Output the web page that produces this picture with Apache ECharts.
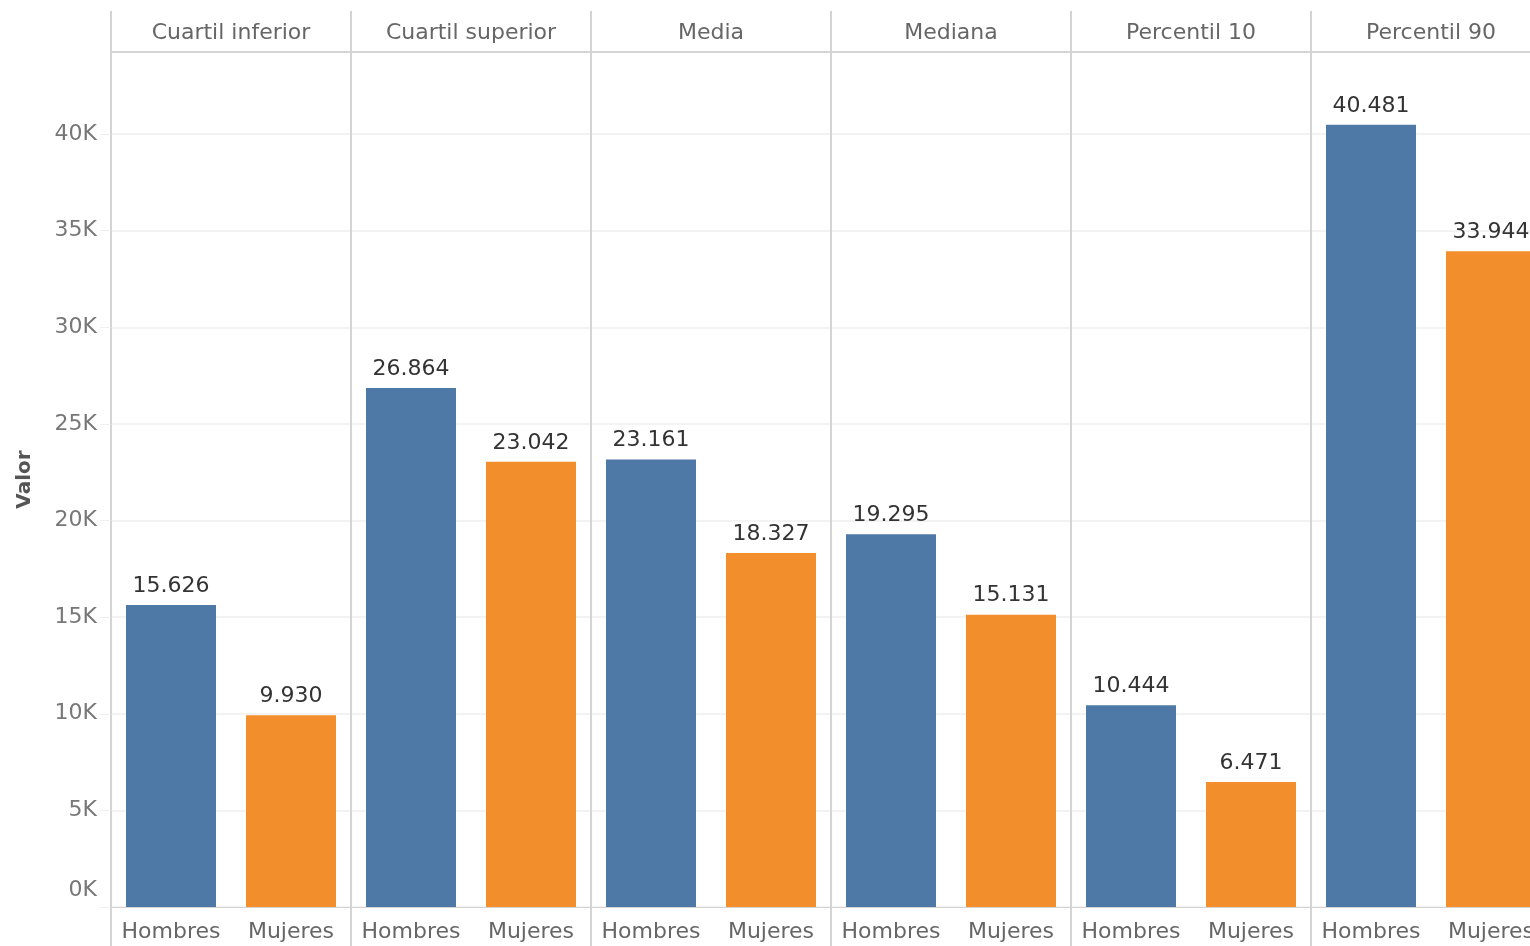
<!DOCTYPE html>
<html>
<head>
<meta charset="utf-8">
<title>Valor por estadístico y sexo</title>
<script src="https://cdn.jsdelivr.net/npm/echarts@6/dist/echarts.min.js"></script>
<style>
  html, body { margin: 0; padding: 0; background: #fff; overflow: hidden; }
  /* el último panel se sale del borde derecho, como en el original */
  #chart { width: 1570px; height: 946px; }
</style>
</head>
<body>
<div id="chart"></div>
<script>
// datos
var panels = ['Cuartil inferior', 'Cuartil superior', 'Media', 'Mediana', 'Percentil 10', 'Percentil 90'];
var sexos = ['Hombres', 'Mujeres'];
var hombres = [15626, 26864, 23161, 19295, 10444, 40481];
var mujeres = [9930, 23042, 18327, 15131, 6471, 33944];
var colores = ['#4e79a7', '#f28e2b'];

var FONT = '"DejaVu Sans", sans-serif';
var LINE = '#d4d4d4';
var GRID_LINE = '#efefef';
var panelLeft = 111, panelWidth = 240, gridTop = 52, gridBottom = 39;
var yMax = 44250;

//separador de miles con punto
function miles(v) {
  return String(v).replace(/\B(?=(\d{3})+(?!\d))/g, '.');
}

var myChart = echarts.init(document.getElementById('chart'));
var grid = [], xAxis = [], yAxis = [], series = [];

for (var i = 0; i < panels.length; i++) {
  grid.push({
    left: panelLeft + panelWidth * i,
    top: gridTop,
    width: panelWidth,
    bottom: gridBottom,
    containLabel: false
  });
  // categorias abajo
  xAxis.push({
    type: 'category',
    gridIndex: i,
    position: 'bottom',
    data: sexos,
    axisLine: { lineStyle: { color: LINE } },
    axisTick: { show: false },
    axisLabel: { interval: 0, hideOverlap: false, color: '#666', fontFamily: FONT, fontSize: 22, margin: 14 }
  });
  // cabecera del panel arriba
  xAxis.push({
    type: 'category',
    gridIndex: i,
    position: 'top',
    data: [panels[i]],
    axisLine: { lineStyle: { color: LINE, width: 2 } },
    axisTick: { show: true, length: 41, lineStyle: { color: LINE, width: 2 } },
    axisLabel: { interval: 0, color: '#666', fontFamily: FONT, fontSize: 22, margin: 8 }
  });
  // separadores bajo el eje
  xAxis.push({
    type: 'category',
    gridIndex: i,
    position: 'bottom',
    data: [''],
    axisLine: { show: false },
    axisTick: { show: true, length: 39, lineStyle: { color: LINE, width: 2 } },
    axisLabel: { show: false }
  });
  yAxis.push({
    type: 'value',
    gridIndex: i,
    min: 0,
    max: yMax,
    interval: 5000,
    name: i === 0 ? 'Valor' : '',
    nameLocation: 'middle',
    nameGap: 76,
    nameRotate: 90,
    nameTextStyle: { color: '#555', fontFamily: FONT, fontSize: 20, fontWeight: 'bold' },
    axisLine: { show: true, lineStyle: { color: LINE, width: 2 } },
    axisTick: { show: i === 0, length: 11, lineStyle: { color: GRID_LINE } },
    axisLabel: {
      show: i === 0,
      showMaxLabel: false,
      color: '#777',
      fontFamily: FONT,
      fontSize: 22,
      margin: 14,
      formatter: function (v) {
        // el 0K va un poco más arriba
        return v === 0 ? '{z|0K}' : (v / 1000) + 'K';
      },
      rich: {
        z: { color: '#777', fontFamily: FONT, fontSize: 22, padding: [0, 0, 34, 0] }
      }
    },
    splitLine: { show: true, lineStyle: { color: GRID_LINE, width: 1.5 } }
  });
  series.push({
    type: 'bar',
    xAxisIndex: i * 3,
    yAxisIndex: i,
    barWidth: '75%',
    data: [hombres[i], mujeres[i]],
    itemStyle: {
      color: function (p) { return colores[p.dataIndex]; }
    },
    label: {
      show: true,
      position: 'top',
      distance: 8,
      color: '#333',
      fontFamily: FONT,
      fontSize: 22,
      formatter: function (p) { return miles(p.value); }
    }
  });
}

var option = {
  animation: false,
  grid: grid,
  xAxis: xAxis,
  yAxis: yAxis,
  series: series
};
myChart.setOption(option);
</script>
</body>
</html>
